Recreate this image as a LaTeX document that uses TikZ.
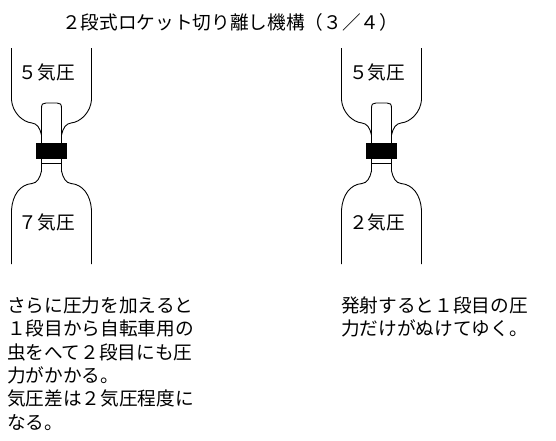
\documentclass[tikz,border=0pt]{standalone}
\usepackage{fontspec}
\setmainfont{Noto Sans CJK JP}
\newcommand{\bottlepair}[1]{%
  \begin{scope}[xshift=#1]
    % upper bottle
    \draw[wall] (11.5,48) -- (11.5,100) .. controls (12.5,112) and (22,122) .. (32,123) .. controls (37,123.5) and (40,128) .. (41.5,135);
    \draw[wall] (91.5,48) -- (91.5,100) .. controls (90.5,112) and (81,122) .. (71,123) .. controls (66,123.5) and (63,128) .. (61.5,135);
    % inner tube
    \draw[wall] (41.5,143) -- (41.5,108) .. controls (41.5,104) and (43,103) .. (46,103) -- (57,103) .. controls (60,103) and (61.5,104) .. (61.5,108) -- (61.5,143);
    % lower bottle
    \draw[wall] (41.5,159) -- (41.5,171) .. controls (40,178) and (37,183) .. (32,183.5) .. controls (20,184.5) and (12.5,195) .. (11.5,210) -- (11.5,264);
    \draw[wall] (61.5,159) -- (61.5,171) .. controls (63,178) and (66,183) .. (71,183.5) .. controls (83,184.5) and (90.5,195) .. (91.5,210) -- (91.5,264);
    \draw[wall] (41.5,163.5) -- (61.5,163.5);
    % clamp
    \fill (36,143) rectangle (67,159);
  \end{scope}}

\begin{document}
\begin{tikzpicture}[
    x=1pt,y=-1pt,
    wall/.style={line width=0.9pt,black},
    label/.style={inner sep=0pt,font=\fontsize{18.67}{18.67}\selectfont},
    note/.style={inner sep=0pt,anchor=north west,align=left,
      font=\fontsize{18.67}{23.4}\selectfont}
  ]
    \useasboundingbox (0,0) rectangle (556,440);
    \bottlepair{0}
    \bottlepair{330}

    \node[label,anchor=west] (title) at (62,22) {２段式ロケット切り離し機構（３／４）};
    \node[label] (upperLeft) at (47,72) {５気圧};
    \node[label] (lowerLeft) at (47,222) {７気圧};
    \node[label] (upperRight) at (377,72) {５気圧};
    \node[label] (lowerRight) at (377,222) {２気圧};

    \node[note] (noteLeft) at (7,296.5) {さらに圧力を加えると\\１段目から自転車用の\\虫をへて２段目にも圧\\力がかかる。\\気圧差は２気圧程度に\\なる。};
    \node[note] (noteRight) at (341,296.5) {発射すると１段目の圧\\力だけがぬけてゆく。};
  \end{tikzpicture}
\end{document}
